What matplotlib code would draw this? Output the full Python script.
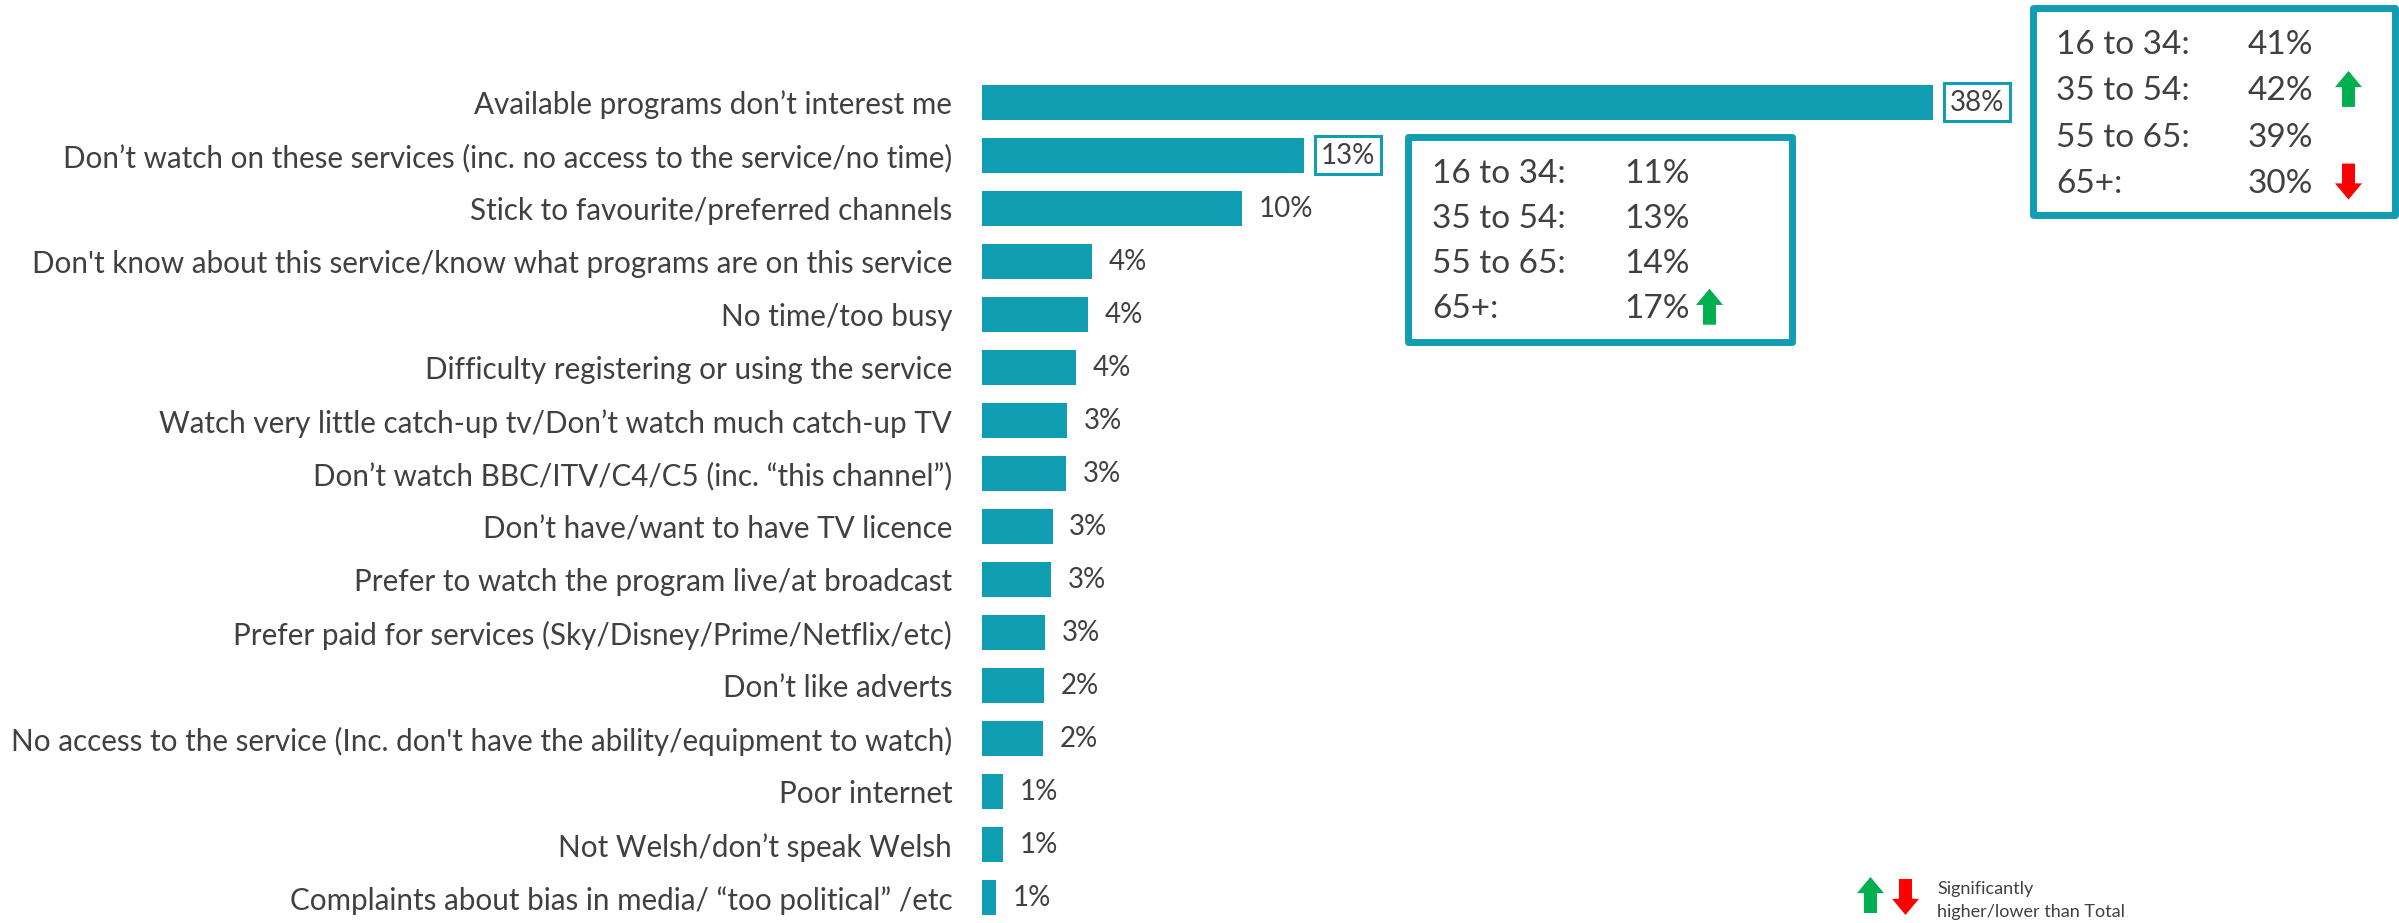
import numpy as np
import matplotlib
matplotlib.use("Agg")
import matplotlib.pyplot as plt
from matplotlib.patches import Rectangle, Polygon

plt.rcParams["font.family"] = ["Lato", "DejaVu Sans"]

# %% data
categories = [
    "Available programs don’t interest me",
    "Don’t watch on these services (inc. no access to the service/no time)",
    "Stick to favourite/preferred channels",
    "Don't know about this service/know what programs are on this service",
    "No time/too busy",
    "Difficulty registering or using the service",
    "Watch very little catch-up tv/Don’t watch much catch-up TV",
    "Don’t watch BBC/ITV/C4/C5 (inc. “this channel”)",
    "Don’t have/want to have TV licence",
    "Prefer to watch the program live/at broadcast",
    "Prefer paid for services (Sky/Disney/Prime/Netflix/etc)",
    "Don’t like adverts",
    "No access to the service (Inc. don't have the ability/equipment to watch)",
    "Poor internet",
    "Not Welsh/don’t speak Welsh",
    "Complaints about bias in media/ “too political” /etc",
]
values = [38.0, 12.88, 10.39, 4.38, 4.25, 3.76, 3.40, 3.37, 2.82, 2.76,
          2.53, 2.48, 2.44, 0.85, 0.83, 0.56]
value_labels = ["38%", "13%", "10%", "4%", "4%", "4%", "3%", "3%", "3%", "3%",
                "3%", "2%", "2%", "1%", "1%", "1%"]
boxed = [0, 1]

ages = ["16 to 34:", "35 to 54:", "55 to 65:", "65+:"]
box1_vals = ["41%", "42%", "39%", "30%"]
box1_sig = [0, 1, 0, -1]
box2_vals = ["11%", "13%", "14%", "17%"]
box2_sig = [0, 0, 0, 1]

TEAL = "#119EB3"
TXT = "#404040"
GREEN = "#00B050"
RED = "#FF0000"

W, H = 2399, 923
fig = plt.figure(figsize=(23.99, 9.234), dpi=100)


def fx(x):
    return x / W


def fy(y):
    return 1 - y / H


# bars axes: x 982..1933 px for 0..38, rows 53 px apart starting at 102.5
row = 53.0
top = 102.5 - row / 2
ax = fig.add_axes([fx(982), fy(top + row * len(values)), (1933 - 982) / W, row * len(values) / H])
y = np.arange(len(values))
ax.barh(y, values, height=0.66, color=TEAL)
ax.set_xlim(0, 38)
ax.set_ylim(len(values) - 0.5, -0.5)
ax.set_yticks(y)
ax.set_yticklabels(categories, fontsize=21.3, color=TXT)
ax.tick_params(axis="y", length=0, pad=21.5)
ax.set_xticks([])
for s in ax.spines.values():
    s.set_visible(False)

for i, (v, lab) in enumerate(zip(values, value_labels)):
    if i in boxed:
        ax.annotate(lab, (v, i), xytext=(12, 0), textcoords="offset points",
                    va="center", ha="left", fontsize=20, color=TXT,
                    annotation_clip=False,
                    bbox=dict(boxstyle="square,pad=0.22", fc="white", ec=TEAL, lw=2.2))
    else:
        ax.annotate(lab, (v, i), xytext=(12, 0), textcoords="offset points",
                    va="center", ha="left", fontsize=20, color=TXT,
                    annotation_clip=False)


def arrow(x0, y0, w, h, up, color):
    hh = 0.45 * h
    if up:
        pts = [(x0 + w / 2, y0), (x0 + w, y0 + hh), (x0 + 0.74 * w, y0 + hh),
               (x0 + 0.74 * w, y0 + h), (x0 + 0.26 * w, y0 + h),
               (x0 + 0.26 * w, y0 + hh), (x0, y0 + hh)]
    else:
        pts = [(x0 + w / 2, y0 + h), (x0 + w, y0 + h - hh), (x0 + 0.74 * w, y0 + h - hh),
               (x0 + 0.74 * w, y0), (x0 + 0.26 * w, y0),
               (x0 + 0.26 * w, y0 + h - hh), (x0, y0 + h - hh)]
    fig.patches.append(Polygon([(fx(a), fy(b)) for a, b in pts], closed=True,
                               transform=fig.transFigure, fc=color, ec="none"))


def age_box(x0, y0, x1, y1, tx, vx, ay, dy, vals, sig, ax_x):
    fig.patches.append(Rectangle((fx(x0), fy(y1)), (x1 - x0) / W, (y1 - y0) / H,
                                 transform=fig.transFigure, fc="white", ec=TEAL,
                                 lw=5, joinstyle="round"))
    for k, (a, v, s) in enumerate(zip(ages, vals, sig)):
        yy = ay + k * dy
        fig.text(fx(tx), fy(yy), a, fontsize=24, color=TXT, va="center", ha="left")
        fig.text(fx(vx), fy(yy), v, fontsize=24, color=TXT, va="center", ha="left")
        if s > 0:
            arrow(ax_x, yy - 20, 27, 36, True, GREEN)
        elif s < 0:
            arrow(ax_x, yy - 20, 27, 36, False, RED)


age_box(2033, 8, 2395, 215, 2056, 2248, 45, 46.3, box1_vals, box1_sig, 2335)
age_box(1408, 137, 1792, 342, 1432, 1624, 174, 45, box2_vals, box2_sig, 1696)

# significance legend
arrow(1857, 877, 27, 36, True, GREEN)
arrow(1892, 879, 27, 36, False, RED)
fig.text(fx(1937), fy(889), "Significantly", fontsize=13, color=TXT, va="center", ha="left")
fig.text(fx(1937), fy(912), "higher/lower than Total", fontsize=13, color=TXT, va="center", ha="left")

fig.savefig("out.png", dpi=100)
